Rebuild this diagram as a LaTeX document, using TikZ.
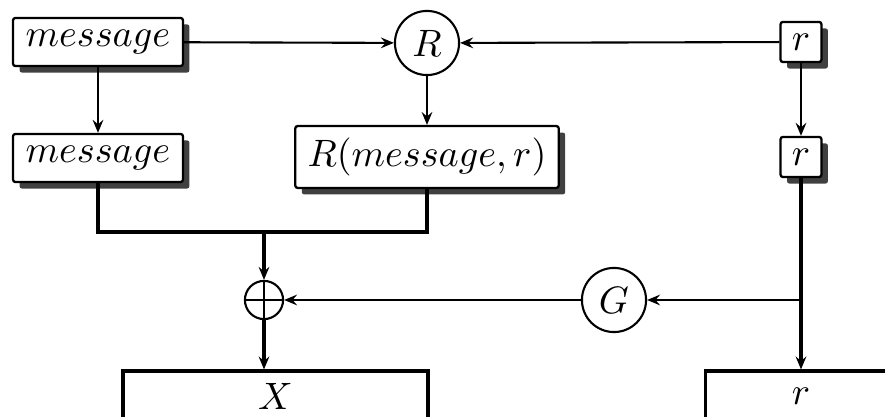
\documentclass[tikz,border=0pt]{standalone}
\usepackage{amsmath}
\usepackage{tikz}
\usetikzlibrary{arrows.meta, calc, shadows}

\begin{document}
\begin{tikzpicture} [x=0.262pt, y=-0.262pt,
	line width=0.55pt,
	>={Stealth[length=3.4pt, width=2.8pt, inset=1.2pt]},
	block/.style={draw, fill=white, rounded corners=0.6pt, line width=0.6pt,
		inner sep=0pt, minimum height=12.6pt,
		drop shadow={shadow xshift=1.7pt, shadow yshift=-1.7pt, fill=black!75, opacity=1}},
	func/.style={draw, circle, fill=white, inner sep=0pt, minimum size=16.8pt},
	xorop/.style={draw, circle, inner sep=0pt, minimum size=10pt,
		path picture={\draw (path picture bounding box.north) -- (path picture bounding box.south)
			(path picture bounding box.west) -- (path picture bounding box.east);}},
	outbox/.style={draw, line width=0.9pt, inner sep=0pt, minimum height=13pt},
	bus/.style={line width=0.9pt}]
	%    frame of the picture
	
	\useasboundingbox (0,0) rectangle (885,417);
	\clip (0,0) rectangle (885,417);
	
	% top row
	\node[block, minimum width=44.5pt] (msgA) at (98,42) {$message$};
	\node[func] (R) at (427,43) {$R$};
	\node[block, minimum width=10.7pt, minimum height=10.5pt] (rA) at (801,42) {$r$};
	
	% second row
	\node[block, minimum width=44.5pt] (msgB) at (98,158) {$message$};
	\node[block, minimum width=69pt, minimum height=16.2pt] (Rmr) at (427,157) {$R(message,r)$};
	\node[block, minimum width=10.7pt, minimum height=10.5pt] (rB) at (801,157) {$r$};
	
	% combining
	\node[xorop] (xor) at (264,300) {};
	\node[func] (G) at (614,300) {$G$};
	\node[outbox, minimum width=80pt] (X) at (275.5,396) {$X$};
	\node[outbox, minimum width=50pt] (rOut) at (801,396) {$r$};
	
	\coordinate (merge) at (xor |- 0,232);
	\coordinate (split) at (rB |- G);
	
	\draw[->] (msgA) -- (R);
	\draw[->] (rA) -- (R);
	\draw[->] (msgA) -- (msgB);
	\draw[->] (R) -- (Rmr);
	\draw[->] (rA) -- (rB);
	
	\draw[bus] (msgB.south) |- (merge) -| (Rmr.south);
	\draw[bus, ->] (merge) -- (xor);
	\draw[bus, ->] (xor) -- (xor |- X.north);
	\draw[bus, ->] (rB) -- (rOut);
	\draw[->] (split) -- (G);
	\draw[->] (G) -- (xor);
	
\end{tikzpicture}
\end{document}
